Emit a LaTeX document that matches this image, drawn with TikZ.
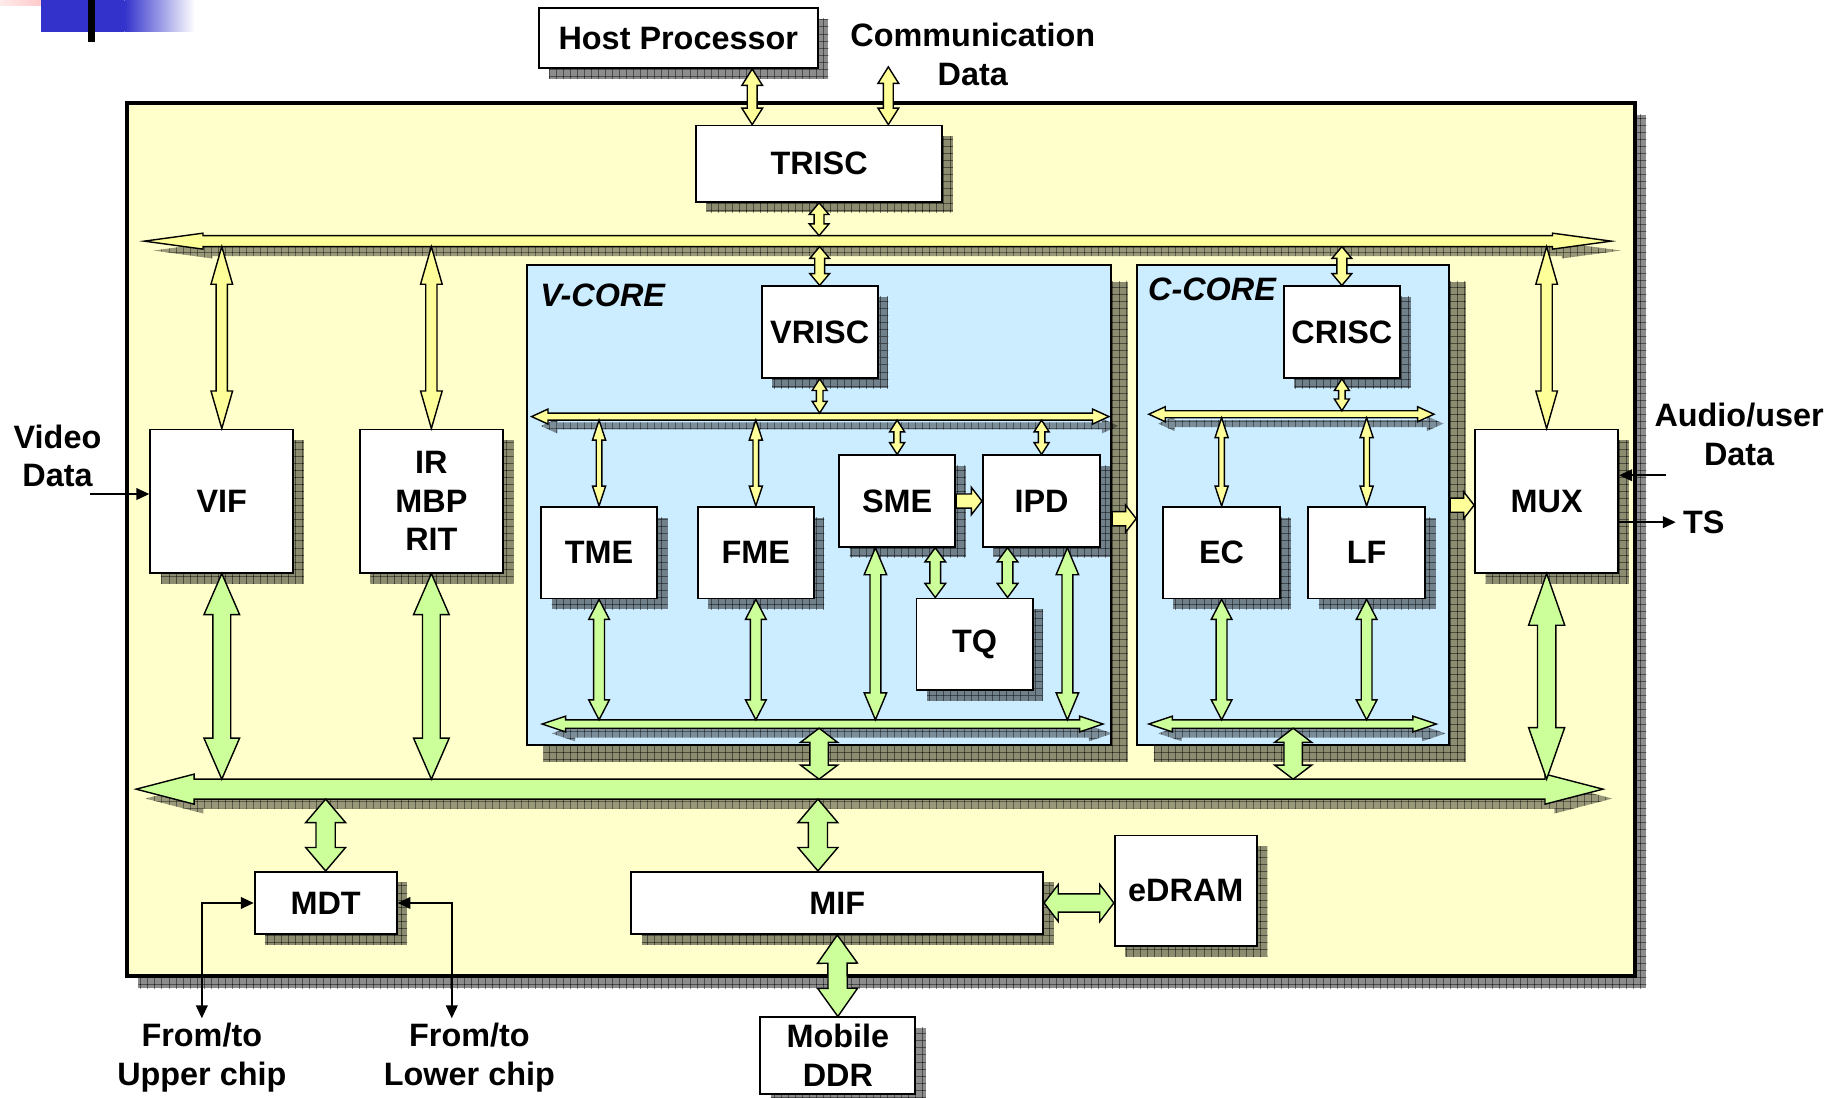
\documentclass[tikz,border=0pt]{standalone}
\usepackage{fontspec}
\setmainfont{Liberation Sans}
\usetikzlibrary{positioning,calc,shadows,arrows.meta,patterns}

\definecolor{chipfill}{HTML}{FFFFCC}
\definecolor{corefill}{HTML}{CCECFF}
\definecolor{yelarrow}{HTML}{FFFF99}
\definecolor{grnarrow}{HTML}{CCFF99}
\definecolor{slideblue}{HTML}{3333CC}
\definecolor{slidepink}{HTML}{FFB0B0}

\newcommand\diagfont{\fontsize{13.8}{16.5}\selectfont\bfseries}

% outline of a block arrow with a head at both ends
\newcommand\twoheadpath[2]{let \p1=(#1), \p2=(#2),
  \p3=($(\p1)!\ahl pt!(\p2)$), \p4=($(\p2)!\ahl pt!(\p1)$) in
  (\p1) -- ($(\p3)!\ahw pt!90:(\p2)$) -- ($(\p3)!\aw pt!90:(\p2)$)
  -- ($(\p4)!\aw pt!-90:(\p1)$) -- ($(\p4)!\ahw pt!-90:(\p1)$) -- (\p2)
  -- ($(\p4)!\ahw pt!90:(\p1)$) -- ($(\p4)!\aw pt!90:(\p1)$)
  -- ($(\p3)!\aw pt!-90:(\p2)$) -- ($(\p3)!\ahw pt!-90:(\p2)$) -- cycle}
% outline of a block arrow with one head
\newcommand\oneheadpath[2]{let \p1=(#1), \p2=(#2),
  \p4=($(\p2)!\ahl pt!(\p1)$) in
  ($(\p1)!\aw pt!90:(\p2)$) -- ($(\p4)!\aw pt!-90:(\p1)$) -- ($(\p4)!\ahw pt!-90:(\p1)$)
  -- (\p2) -- ($(\p4)!\ahw pt!90:(\p1)$) -- ($(\p4)!\aw pt!90:(\p1)$)
  -- ($(\p1)!\aw pt!-90:(\p2)$) -- cycle}

\newcommand\dblarrow[3][]{\filldraw[blockarrow,#1] \twoheadpath{#2}{#3};}
\newcommand\sglarrow[3][]{\filldraw[blockarrow,#1] \oneheadpath{#2}{#3};}
\newcommand\busarrow[3][]{%
  \fill[blockarrow,#1,busshadow] \twoheadpath{$(#2)+(4pt,-4pt)$}{$(#3)+(4pt,-4pt)$};
  \filldraw[blockarrow,#1] \twoheadpath{#2}{#3};}

\begin{document}
\begin{tikzpicture}[x=0.5pt, y=-0.5pt,
        shade grid/.style={postaction={pattern=grid, pattern color=black}},
        box/.style={rectangle, draw, line width=0.8pt, fill=white, inner sep=0pt, align=center, font=\diagfont,
            drop shadow={shadow xshift=4.5pt, shadow yshift=-4.5pt, fill=black, opacity=0.45, shade grid}},
        core/.style={rectangle, draw, line width=0.8pt, fill=corefill,
            drop shadow={shadow xshift=7pt, shadow yshift=-7pt, fill=black, opacity=0.45, shade grid}},
        chip/.style={rectangle, draw, line width=1.6pt, fill=chipfill,
            drop shadow={shadow xshift=5pt, shadow yshift=-5pt, fill=black, opacity=0.45, shade grid}},
        txt/.style={font=\diagfont, align=center, inner sep=0pt},
        corelabel/.style={font=\diagfont\itshape, anchor=west, inner sep=0pt},
        arrow dims/.code n args={3}{\def\aw{#1}\def\ahw{#2}\def\ahl{#3}},
        blockarrow/.style={draw=black, line width=0.6pt},
        busshadow/.style={draw=none, fill=black, fill opacity=0.4,
            postaction={pattern=grid, pattern color=black, opacity=0.4}},
        yel/.style={fill=yelarrow},
        grn/.style={fill=grnarrow},
        ylong/.style={yel, arrow dims={2.4}{4.6}{16}},
        yshort/.style={yel, arrow dims={2.1}{4.2}{5}},
        ythin/.style={yel, arrow dims={1.2}{2.8}{8.5}},
        ystub/.style={yel, arrow dims={1.4}{3.2}{5}},
        yside/.style={yel, arrow dims={3}{5.8}{4.5}},
        gwide/.style={grn, arrow dims={3.8}{7.6}{17.5}},
        gmid/.style={grn, arrow dims={2.3}{4.4}{8.5}},
        gstub/.style={grn, arrow dims={3.9}{7.9}{6}},
        gmem/.style={grn, arrow dims={4.1}{8.5}{10}},
        sig/.style={line width=0.7pt},
        >={Triangle[length=5.5pt,width=5pt]}
    ]
    \useasboundingbox (0,0) rectangle (1568,935);

    % slide decoration
    \shade[left color=slidepink!25, right color=slidepink] (0,0) rectangle (62,5);
    \fill[slideblue] (35,0) rectangle (106,27);
    \shade[left color=slideblue, right color=white] (106,0) rectangle (166,27);
    \fill[black] (75,0) rectangle (81,36);

    % Chip and cores
    \node[chip, minimum width=642.5pt, minimum height=372pt] (chip) at (750.5,460) {};
    \node[core, minimum width=249pt, minimum height=204.5pt] (vcore) at (698,430.5) {};
    \node[core, minimum width=133pt, minimum height=204.5pt] (ccore) at (1102,430.5) {};
    \node[corelabel] (vlabel) at (460,252) {V-CORE};
    \node[corelabel] (clabel) at (978,247) {C-CORE};

    % Blocks
    \node[box, minimum width=119pt, minimum height=25.5pt] (host) at (578,32.5) {Host Processor};
    \node[txt] (comm) at (829,46.5) {Communication\\Data};
    \node[box, minimum width=105pt, minimum height=32.5pt] (trisc) at (698,139.5) {TRISC};
    \node[box, minimum width=61pt, minimum height=61pt] (vif) at (189,427) {VIF};
    \node[box, minimum width=61pt, minimum height=61pt, right=27.5pt of vif] (ir) {IR\\MBP\\RIT};
    \node[box, minimum width=49.5pt, minimum height=39pt] (vrisc) at (698.5,283) {VRISC};
    \node[box, minimum width=49.5pt, minimum height=39pt] (tme) at (510.5,471) {TME};
    \node[box, minimum width=49.5pt, minimum height=39pt, right=16.5pt of tme] (fme) {FME};
    \node[box, minimum width=49.5pt, minimum height=39pt] (sme) at (764.5,427) {SME};
    \node[box, minimum width=50pt, minimum height=39pt, right=11pt of sme] (ipd) {IPD};
    \node[box, minimum width=49.5pt, minimum height=39pt] (tq) at (830.5,549) {TQ};
    \node[box, minimum width=49.5pt, minimum height=39pt] (crisc) at (1143.5,283) {CRISC};
    \node[box, minimum width=50pt, minimum height=39pt] (ec) at (1041,471) {EC};
    \node[box, minimum width=50pt, minimum height=39pt, right=11pt of ec] (lf) {LF};
    \node[box, minimum width=61pt, minimum height=61pt] (mux) at (1318,427) {MUX};
    \node[box, minimum width=60.5pt, minimum height=26.5pt] (mdt) at (277.5,769.5) {MDT};
    \node[box, minimum width=175.5pt, minimum height=26.5pt] (mif) at (713.5,769.5) {MIF};
    \node[box, minimum width=60.5pt, minimum height=47pt] (edram) at (1010.5,759) {eDRAM};
    \node[box, minimum width=66pt, minimum height=32.5pt] (ddr) at (714,899.5) {Mobile\\DDR};

    % Outside labels
    \node[txt] (video) at (49,388.5) {Video\\Data};
    \node[txt] (audio) at (1482,370.5) {Audio/user\\Data};
    \node[txt] (ts) at (1452,445) {TS};
    \node[txt] (upper) at (172,901.5) {From/to\\Upper chip};
    \node[txt] (lower) at (400,901.5) {From/to\\Lower chip};

    % Bus ends and edges
    \coordinate (tbusW) at (123,205.5); \coordinate (tbusE) at (1373,205.5);
    \coordinate (tbusN) at (0,200.8);   \coordinate (tbusS) at (0,210.2);
    \coordinate (vtbusW) at (453,355);  \coordinate (vtbusE) at (945,355);
    \coordinate (vtbusN) at (0,352);    \coordinate (vtbusS) at (0,358);
    \coordinate (ctbusW) at (979,353);  \coordinate (ctbusE) at (1222,353);
    \coordinate (ctbusN) at (0,350);    \coordinate (ctbusS) at (0,356);
    \coordinate (vbbusW) at (462,617);  \coordinate (vbbusE) at (940,617);
    \coordinate (cbbusW) at (979,617);  \coordinate (cbbusE) at (1224,617);
    \coordinate (bbusN) at (0,613.4);   \coordinate (bbusS) at (0,620.6);
    \coordinate (mbusW) at (116,672.5); \coordinate (mbusE) at (1366,672.5);
    \coordinate (mbusN) at (0,664);     \coordinate (mbusS) at (0,681);

    % Ports
    \coordinate (hostport) at ([xshift=31.5pt]host.south);
    \coordinate (commport) at (757,57);
    \coordinate (smedown) at ([xshift=-9.25pt]sme.south);
    \coordinate (smetq) at ([xshift=16.25pt]sme.south);
    \coordinate (ipdtq) at ([xshift=-14.5pt]ipd.south);
    \coordinate (ipddown) at ([xshift=11pt]ipd.south);
    \coordinate (mifup) at ([xshift=-8.25pt]mif.north);
    \coordinate (vcout) at ([yshift=-5.75pt]vcore.east);
    \coordinate (videoin) at (77,421);
    \coordinate (audioin) at (1420,405);

    % Buses
    \busarrow[yel, arrow dims={2.35}{3.4}{25}]{tbusW}{tbusE}
    \busarrow[yel, arrow dims={1.5}{3.2}{7}]{vtbusW}{vtbusE}
    \busarrow[yel, arrow dims={1.5}{3.2}{7}]{ctbusW}{ctbusE}
    \busarrow[grn, arrow dims={1.8}{3.35}{10}]{vbbusW}{vbbusE}
    \busarrow[grn, arrow dims={1.8}{3.35}{10}]{cbbusW}{cbbusE}
    \busarrow[grn, arrow dims={4.25}{6.4}{24.7}]{mbusW}{mbusE}

    % Control paths
    \dblarrow[yel, arrow dims={2.1}{4.4}{7}]{hostport}{hostport |- trisc.north}
    \dblarrow[yel, arrow dims={2.1}{4.4}{7}]{commport}{commport |- trisc.north}
    \dblarrow[yshort]{trisc.south}{trisc.south |- tbusN}
    \dblarrow[yshort]{tbusS -| vrisc.north}{vrisc.north}
    \dblarrow[yshort]{tbusS -| crisc.north}{crisc.north}
    \dblarrow[ylong]{tbusS -| vif.north}{vif.north}
    \dblarrow[ylong]{tbusS -| ir.north}{ir.north}
    \dblarrow[ylong]{tbusS -| mux.north}{mux.north}
    \dblarrow[ystub]{vrisc.south}{vrisc.south |- vtbusN}
    \dblarrow[ythin]{vtbusS -| tme.north}{tme.north}
    \dblarrow[ythin]{vtbusS -| fme.north}{fme.north}
    \dblarrow[ystub]{vtbusS -| sme.north}{sme.north}
    \dblarrow[ystub]{vtbusS -| ipd.north}{ipd.north}
    \dblarrow[ystub]{crisc.south}{crisc.south |- ctbusN}
    \dblarrow[ythin]{ctbusS -| ec.north}{ec.north}
    \dblarrow[ythin]{ctbusS -| lf.north}{lf.north}
    \sglarrow[yside]{sme.east}{ipd.west}
    \sglarrow[yside]{vcout}{vcout -| ccore.west}
    \sglarrow[yside]{ccore.east}{ccore.east -| mux.west}

    % Data paths
    \dblarrow[gwide]{vif.south}{vif.south |- mbusN}
    \dblarrow[gwide]{ir.south}{ir.south |- mbusN}
    \dblarrow[grn, arrow dims={3.9}{7.7}{22}]{mux.south}{mux.south |- mbusN}
    \dblarrow[gmid]{tme.south}{tme.south |- bbusN}
    \dblarrow[gmid]{fme.south}{fme.south |- bbusN}
    \dblarrow[grn, arrow dims={2.3}{4.8}{11.5}]{smedown}{smedown |- bbusN}
    \dblarrow[grn, arrow dims={2.3}{4.8}{11.5}]{ipddown}{ipddown |- bbusN}
    \dblarrow[grn, arrow dims={2.3}{4.4}{6}]{smetq}{smetq |- tq.north}
    \dblarrow[grn, arrow dims={2.3}{4.4}{6}]{ipdtq}{ipdtq |- tq.north}
    \dblarrow[gmid]{ec.south}{ec.south |- bbusN}
    \dblarrow[gmid]{lf.south}{lf.south |- bbusN}
    \dblarrow[gstub]{bbusS -| vcore.south}{vcore.south |- mbusN}
    \dblarrow[gstub]{bbusS -| ccore.south}{ccore.south |- mbusN}
    \dblarrow[gmem]{mbusS -| mdt.north}{mdt.north}
    \dblarrow[gmem]{mbusS -| mifup}{mifup}
    \dblarrow[gstub]{mif.east}{mif.east -| edram.west}
    \dblarrow[grn, arrow dims={4.1}{8.5}{12}]{mif.south}{ddr.north}

    % Signals
    \draw[sig, ->] (videoin) -- (videoin -| vif.west);
    \draw[sig, ->] (audioin) -- (audioin -| mux.east);
    \draw[sig, ->] (mux.east |- ts) -- ([xshift=-3pt]ts.west);
    \draw[sig, <->] ([yshift=2pt]upper.north) |- (mdt.west);
    \draw[sig, <->] ([xshift=-7.5pt,yshift=2pt]lower.north) |- (mdt.east);
\end{tikzpicture}
\end{document}
